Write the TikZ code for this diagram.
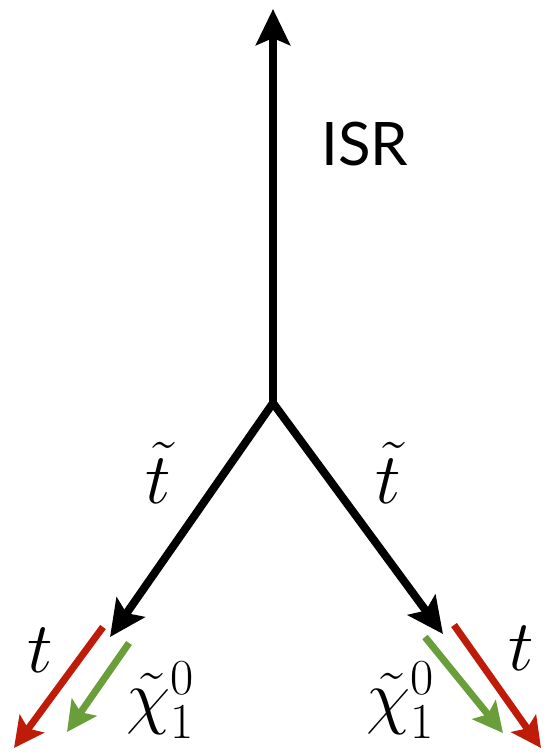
\documentclass[tikz,border=0pt]{standalone}
\usepackage{fix-cm}
\usepackage{fontspec}
\newfontfamily\isrfont{Lato}
\usetikzlibrary{arrows.meta}
\definecolor{tred}{RGB}{190,28,8}
\definecolor{tgreen}{RGB}{105,158,58}
\tikzset{
  blk/.style={line width=8pt, black, -{Stealth[length=36pt,width=34pt,inset=7pt]}},
  ptcl/.style={line width=7pt, -{Stealth[length=30pt,width=30pt,inset=6pt]}},
  lbl/.style={inner sep=0pt, font=\fontsize{72}{80}\selectfont}
}
\begin{document}
\begin{tikzpicture}[x=1pt,y=-1pt]
\useasboundingbox (0,0) rectangle (545,754);
\coordinate (V) at (273,403);
\coordinate (top) at (273,9);
\coordinate (ltip) at (110,637);
\coordinate (rtip) at (443,634);
\coordinate (lrs) at (103,627);
\coordinate (lre) at (14,748);
\coordinate (lgs) at (129,643);
\coordinate (lge) at (67,732);
\coordinate (rgs) at (425,637);
\coordinate (rge) at (503,733);
\coordinate (rrs) at (454,625);
\coordinate (rre) at (541,748);
\draw[blk] (V) -- (top);
\draw[blk] (V) -- (ltip);
\draw[blk] (V) -- (rtip);
\draw[ptcl, tred] (lrs) -- (lre);
\draw[ptcl, tgreen] (lgs) -- (lge);
\draw[ptcl, tgreen] (rgs) -- (rge);
\draw[ptcl, tred] (rrs) -- (rre);
\node[inner sep=0pt, font=\isrfont\fontsize{60}{66}\selectfont, anchor=base west] (isr) at (321,165) {ISR};
\node[lbl, anchor=base] (stl) at (158,503) {$\tilde t$};
\node[lbl, anchor=base] (str) at (388,503) {$\tilde t$};
\node[lbl, anchor=base] (tl) at (40,672) {$t$};
\node[lbl, anchor=base] (tr) at (521,670) {$t$};
\node[lbl, anchor=west] (chl) at (126,700) {$\tilde\chi^0_1$};
\node[lbl, anchor=west] (chr) at (366,700) {$\tilde\chi^0_1$};
\end{tikzpicture}
\end{document}
